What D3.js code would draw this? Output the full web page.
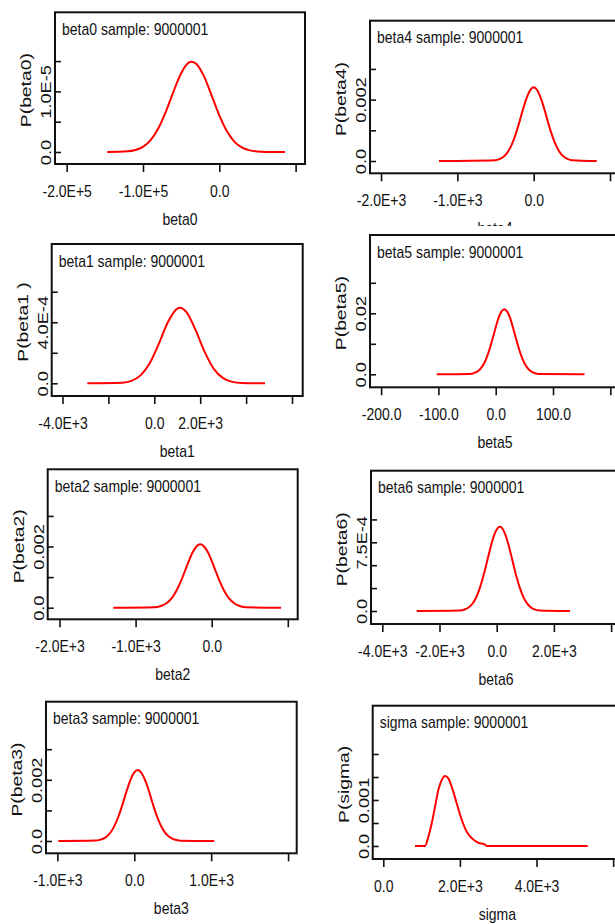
<!DOCTYPE html>
<html>
<head>
<meta charset="utf-8">
<script src="https://cdn.jsdelivr.net/npm/d3@7"></script>
<style>
  body { margin: 0; background: #fff; }
  svg { display: block; }
  text { font-family: "Liberation Sans", Arial, sans-serif; font-size: 14px; fill: #111; }
</style>
</head>
<body>
<div id="chart"></div>
<script>
// sample count shown in every panel title
const sampleSize = 9000001;

// kernel density estimates (x value, density)
const beta0X = [-146800, -120000, -110000, -100000, -90000, -80000, -70000, -60000, -50000, -40000, -36000, -30000, -20000, -10000, 0, 10000, 20000, 30000, 40000, 50000, 60000, 86100];
const beta0Y = [0, 1.1e-7, 3.3e-7, 8.6e-7, 1.96e-6, 3.87e-6, 6.66e-6, 9.98e-6, 1.30e-5, 1.474e-5, 1.49e-5, 1.453e-5, 1.247e-5, 9.31e-6, 6.05e-6, 3.42e-6, 1.68e-6, 7.2e-7, 2.7e-7, 8.6e-8, 2e-8, 0];

const beta4X = [-1241, -500, -450, -400, -350, -300, -250, -200, -150, -100, -50, 0, 50, 100, 150, 200, 250, 300, 350, 400, 450, 500, 826];
const beta4Y = [0, 2.6e-5, 6.1e-5, 1.32e-4, 2.6e-4, 4.69e-4, 7.7e-4, 1.16e-3, 1.6e-3, 2.0e-3, 2.29e-3, 2.4e-3, 2.29e-3, 2.0e-3, 1.6e-3, 1.16e-3, 7.7e-4, 4.69e-4, 2.6e-4, 1.32e-4, 6.1e-5, 2.6e-5, 0];

const beta1X = [-2919, -1400, -1000, -600, -200, 200, 600, 1000, 1120, 1400, 1800, 2200, 2600, 3000, 3400, 3800, 4824];
const beta1Y = [0, 3.9e-6, 1.61e-5, 5.2e-5, 1.31e-4, 2.6e-4, 4.03e-4, 4.9e-4, 4.95e-4, 4.66e-4, 3.48e-4, 2.04e-4, 9.3e-5, 3.35e-5, 9.4e-6, 2e-6, 0];

const beta5X = [-103, -45, -35, -30, -25, -20, -15, -10, -5, 0, 5, 10, 15, 20, 25, 30, 35, 40, 45, 50, 55, 60, 65, 75, 155];
const beta5Y = [0, 1.2e-4, 6.0e-4, 1.18e-3, 2.16e-3, 3.69e-3, 5.88e-3, 8.71e-3, 1.20e-2, 1.544e-2, 1.85e-2, 2.055e-2, 2.13e-2, 2.055e-2, 1.85e-2, 1.544e-2, 1.20e-2, 8.71e-3, 5.88e-3, 3.69e-3, 2.16e-3, 1.18e-3, 6.0e-4, 1.2e-4, 0];

const beta2X = [-1293, -750, -650, -600, -550, -500, -450, -400, -350, -300, -250, -200, -150, -100, -50, 0, 50, 100, 150, 200, 250, 300, 350, 450, 911];
const beta2Y = [0, 1.66e-5, 7.2e-5, 1.37e-4, 2.42e-4, 4.0e-4, 6.19e-4, 8.9e-4, 1.21e-3, 1.53e-3, 1.81e-3, 2.0e-3, 2.07e-3, 2.0e-3, 1.81e-3, 1.53e-3, 1.21e-3, 8.9e-4, 6.19e-4, 4.0e-4, 2.42e-4, 1.37e-4, 7.2e-5, 1.66e-5, 0];

const beta6X = [-2797, -1300, -1100, -1000, -900, -800, -700, -600, -500, -400, -300, -200, -100, 0, 110, 200, 300, 400, 500, 600, 700, 800, 900, 1000, 1100, 1200, 1300, 1500, 2563];
const beta6Y = [0, 4.7e-6, 1.9e-5, 3.5e-5, 6.1e-5, 1.02e-4, 1.61e-4, 2.41e-4, 3.43e-4, 4.61e-4, 5.89e-4, 7.13e-4, 8.18e-4, 8.91e-4, 9.2e-4, 9.0e-4, 8.36e-4, 7.36e-4, 6.14e-4, 4.87e-4, 3.65e-4, 2.6e-4, 1.76e-4, 1.12e-4, 6.8e-5, 3.9e-5, 2.1e-5, 5.5e-6, 0];

const beta3X = [-988, -500, -450, -400, -350, -300, -250, -200, -150, -100, -50, 0, 45, 100, 150, 200, 250, 300, 350, 400, 450, 500, 550, 600, 1040];
const beta3Y = [0, 1.5e-5, 3.7e-5, 8.2e-5, 1.66e-4, 3.1e-4, 5.33e-4, 8.41e-4, 1.22e-3, 1.63e-3, 1.99e-3, 2.24e-3, 2.32e-3, 2.2e-3, 1.93e-3, 1.55e-3, 1.14e-3, 7.73e-4, 4.82e-4, 2.76e-4, 1.45e-4, 7.0e-5, 3.1e-5, 1.2e-5, 0];

const sigmaX = [828, 1089, 1175, 1263, 1350, 1437, 1524, 1611, 1698, 1786, 1916, 2047, 2178, 2308, 2481, 2655, 2700, 5337];
const sigmaY = [0, 0, 2.0e-4, 4.9e-4, 8.5e-4, 1.22e-3, 1.43e-3, 1.52e-3, 1.47e-3, 1.29e-3, 9.3e-4, 5.7e-4, 3.1e-4, 1.7e-4, 7e-5, 3e-5, 0, 0];

// tick values and their printed labels ('' = unlabelled tick)
const beta0XTicks = [-2e5, -1e5, 0, 1e5],   beta0XLabels = ['-2.0E+5', '-1.0E+5', '0.0', ''];
const beta0YTicks = [0, 5e-6, 1e-5, 1.5e-5], beta0YLabels = ['0.0', '', '1.0E-5', ''];
const beta4XTicks = [-2000, -1000, 0, 1000], beta4XLabels = ['-2.0E+3', '-1.0E+3', '0.0', ''];
const beta4YTicks = [0, 0.001, 0.002, 0.003], beta4YLabels = ['0.0', '', '0.002', ''];
const beta1XTicks = [-4000, -2000, 0, 2000, 4000, 6000], beta1XLabels = ['-4.0E+3', '', '0.0', '2.0E+3', '', ''];
const beta1YTicks = [0, 2e-4, 4e-4, 6e-4],   beta1YLabels = ['0.0', '', '4.0E-4', ''];
const beta5XTicks = [-200, -100, 0, 100, 200], beta5XLabels = ['-200.0', '-100.0', '0.0', '100.0', ''];
const beta5YTicks = [0, 0.01, 0.02, 0.03],   beta5YLabels = ['0.0', '', '0.02', ''];
const beta2XTicks = [-2000, -1000, 0, 1000], beta2XLabels = ['-2.0E+3', '-1.0E+3', '0.0', ''];
const beta2YTicks = [0, 0.001, 0.002, 0.003], beta2YLabels = ['0.0', '', '0.002', ''];
const beta6XTicks = [-4000, -2000, 0, 2000, 4000], beta6XLabels = ['-4.0E+3', '-2.0E+3', '0.0', '2.0E+3', ''];
const beta6YTicks = [0, 2.5e-4, 5e-4, 7.5e-4, 1e-3], beta6YLabels = ['0.0', '', '', '7.5E-4', ''];
const beta3XTicks = [-1000, 0, 1000, 2000],  beta3XLabels = ['-1.0E+3', '0.0', '1.0E+3', ''];
const beta3YTicks = [0, 0.001, 0.002, 0.003], beta3YLabels = ['0.0', '', '0.002', ''];
const sigmaXTicks = [0, 2000, 4000, 6000],   sigmaXLabels = ['0.0', '2.0E+3', '4.0E+3', ''];
const sigmaYTicks = [0, 5e-4, 1e-3, 1.5e-3, 2e-3], sigmaYLabels = ['0.0', '', '0.001', '', ''];

// layout: frame box [left, top, right, bottom] and the value range at the frame edges
const panels = [
  { name: 'beta0', xs: beta0X, ys: beta0Y, xt: beta0XTicks, xl: beta0XLabels, yt: beta0YTicks, yl: beta0YLabels,
    box: [55, 12.3, 305, 164], xDom: [-215300, 112300], yDom: [-1.98e-6, 2.305e-5], yLab: 'P(beta0)' },
  { name: 'beta4', xs: beta4X, ys: beta4Y, xt: beta4XTicks, xl: beta4XLabels, yt: beta4YTicks, yl: beta4YLabels,
    box: [370, 20.7, 620, 173.3], xDom: [-2145, 1131], yDom: [-4.0e-4, 4.57e-3], yLab: 'P(beta4)' },
  { name: 'beta1', xs: beta1X, ys: beta1Y, xt: beta1XTicks, xl: beta1XLabels, yt: beta1YTicks, yl: beta1YLabels,
    box: [51.7, 244, 302.7, 396], xDom: [-4471, 6466], yDom: [-8.33e-5, 9.13e-4], yLab: 'P(beta1 )' },
  { name: 'beta5', xs: beta5X, ys: beta5Y, xt: beta5XTicks, xl: beta5XLabels, yt: beta5YTicks, yl: beta5YLabels,
    box: [370, 235, 620, 387.3], xDom: [-219.4, 216.9], yDom: [-0.00426, 0.04567], yLab: 'P(beta5)' },
  { name: 'beta2', xs: beta2X, ys: beta2Y, xt: beta2XTicks, xl: beta2XLabels, yt: beta2YTicks, yl: beta2YLabels,
    box: [47.7, 469.3, 297.7, 619.3], xDom: [-2155, 1130], yDom: [-3.79e-4, 4.523e-3], yLab: 'P(beta2)' },
  { name: 'beta6', xs: beta6X, ys: beta6Y, xt: beta6XTicks, xl: beta6XLabels, yt: beta6YTicks, yl: beta6YLabels,
    box: [371, 470.7, 621, 624], xDom: [-4395, 4346], yDom: [-1.42e-4, 1.532e-3], yLab: 'P(beta6)' },
  { name: 'beta3', xs: beta3X, ys: beta3Y, xt: beta3XTicks, xl: beta3XLabels, yt: beta3YTicks, yl: beta3YLabels,
    box: [46, 701.7, 296.7, 853.3], xDom: [-1148, 2112], yDom: [-4.02e-4, 4.552e-3], yLab: 'P(beta3)' },
  { name: 'sigma', xs: sigmaX, ys: sigmaY, xt: sigmaXTicks, xl: sigmaXLabels, yt: sigmaYTicks, yl: sigmaYLabels,
    box: [372.7, 705.7, 622, 859], xDom: [-277, 6232], yDom: [-2.83e-4, 3.05e-3], yLab: 'P(sigma)' }
];

const svg = d3.select('#chart').append('svg')
  .attr('width', 615)
  .attr('height', 924);

// the source image is a little stretched vertically, so text is too
const flatText = 'scale(1,1.15)';

function drawPanel(p) {
  const [l, t, r, b] = p.box;
  const g = svg.append('g');

  // white backing, later panels sit over earlier labels
  g.append('rect')
    .attr('x', l - 42).attr('y', t - 9)
    .attr('width', r - l + 60).attr('height', b - t + 80)
    .attr('fill', '#fff');

  const x = d3.scaleLinear().domain(p.xDom).range([l, r]);
  const y = d3.scaleLinear().domain(p.yDom).range([b, t]);

  // X - Axis, ticks hang below the frame
  const xa = g.append('g')
    .attr('transform', `translate(0,${b})`)
    .call(d3.axisBottom(x).tickValues(p.xt).tickFormat((d, i) => p.xl[i]).tickSize(8).tickSizeOuter(0));
  xa.select('.domain').remove();
  xa.selectAll('line').attr('stroke', '#111').attr('stroke-width', 1.6);
  xa.selectAll('text')
    .attr('y', 0).attr('dy', null)
    .attr('fill', '#111').attr('font-size', 14)
    .attr('transform', `translate(0,32.5) ${flatText}`);

  // Y - Axis, ticks point into the frame, labels turned
  const ya = g.append('g')
    .attr('transform', `translate(${l},0)`)
    .call(d3.axisLeft(y).tickValues(p.yt).tickFormat((d, i) => p.yl[i]).tickSize(-6).tickSizeOuter(0));
  ya.select('.domain').remove();
  ya.selectAll('line').attr('stroke', '#111').attr('stroke-width', 1.6);
  ya.selectAll('text')
    .attr('x', 0).attr('dy', null)
    .attr('text-anchor', 'middle')
    .attr('fill', '#111').attr('font-size', 14)
    .attr('transform', 'translate(-4,0) rotate(-90) scale(1.3,1)');

  // density curve
  const pts = p.xs.map((v, i) => [v, p.ys[i]]);
  g.append('path')
    .datum(pts)
    .attr('fill', 'none')
    .attr('stroke', '#ff0000')
    .attr('stroke-width', 2)
    .attr('stroke-linejoin', 'round')
    .attr('d', d3.line().x(d => x(d[0])).y(d => y(d[1])).curve(d3.curveMonotoneX));

  // frame
  g.append('rect')
    .attr('x', l).attr('y', t)
    .attr('width', r - l).attr('height', b - t)
    .attr('fill', 'none')
    .attr('stroke', '#111')
    .attr('stroke-width', 2);

  g.append('text')
    .attr('transform', `translate(${l + 7},${t + 22.6}) ${flatText}`)
    .text(`${p.name} sample: ${sampleSize}`);

  g.append('text')
    .attr('text-anchor', 'middle')
    .attr('transform', `translate(${(l + r) / 2},${b + 61}) ${flatText}`)
    .text(p.name);

  g.append('text')
    .attr('text-anchor', 'middle')
    .attr('transform', `translate(${l - 24},${(t + b) / 2 + 2}) rotate(-90) scale(1.38,1)`)
    .text(p.yLab);
}

panels.forEach(drawPanel);
</script>
</body>
</html>
